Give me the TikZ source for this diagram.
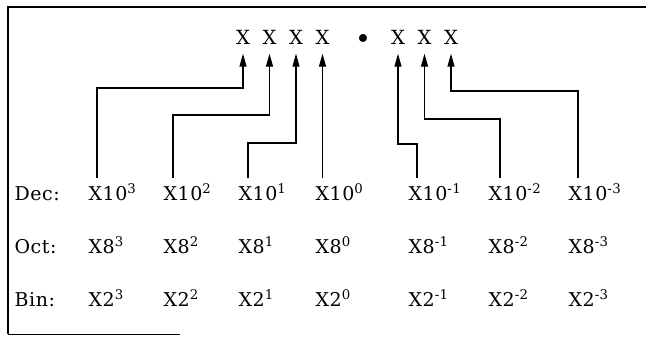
\documentclass[tikz,border=0pt]{standalone}
\usepackage{fontspec}
\setmainfont{DejaVu Serif}[LetterSpace=3]
\usetikzlibrary{arrows.meta}

\begin{document}
\begin{tikzpicture}[x=1pt,y=1pt,->,>={Triangle[length=13pt,width=7pt]},shorten >=9pt,line width=1.2pt,node distance=26.5pt,
    digitnode/.style={inner sep=0pt,font=\fontsize{19.5}{22}\selectfont},
    powlabel/.style={anchor=base west,inner sep=0pt,font=\fontsize{19}{22}\selectfont}]

    \useasboundingbox (0,0) rectangle (646,-337);

    % frame
    \draw[-,shorten >=0pt,line width=2pt] (646,-7) -- (8,-7) -- (8,-334);
    \draw[-,shorten >=0pt,line width=1pt] (8,-334) -- (180,-334);

    % the number
    \node[digitnode] (d3) at (243,-37) {X};
    \node[digitnode] (d2) [right of = d3] {X};
    \node[digitnode] (d1) [right of = d2] {X};
    \node[digitnode] (d0) [right of = d1] {X};
    \node[digitnode,font=\fontsize{27}{30}\selectfont] (pt) [right of = d0, xshift=14pt, yshift=-5pt] {•};
    \node[digitnode] (dm1) [right of = pt, xshift=8.5pt, yshift=5pt] {X};
    \node[digitnode] (dm2) [right of = dm1] {X};
    \node[digitnode] (dm3) [right of = dm2] {X};

    % weights
    \node[powlabel] (dec) at (14,-200) {Dec:};
    \node[powlabel] (dec3) at (88,-200) {X10\textsuperscript{3}};
    \node[powlabel] (dec2) at (163,-200) {X10\textsuperscript{2}};
    \node[powlabel] (dec1) at (238,-200) {X10\textsuperscript{1}};
    \node[powlabel] (dec0) at (315,-200) {X10\textsuperscript{0}};
    \node[powlabel] (decm1) at (408,-200) {X10\textsuperscript{-1}};
    \node[powlabel] (decm2) at (488,-200) {X10\textsuperscript{-2}};
    \node[powlabel] (decm3) at (568,-200) {X10\textsuperscript{-3}};

    \node[powlabel] (oct) at (14,-253) {Oct:};
    \node[powlabel] (oct3) at (88,-253) {X8\textsuperscript{3}};
    \node[powlabel] (oct2) at (163,-253) {X8\textsuperscript{2}};
    \node[powlabel] (oct1) at (238,-253) {X8\textsuperscript{1}};
    \node[powlabel] (oct0) at (315,-253) {X8\textsuperscript{0}};
    \node[powlabel] (octm1) at (408,-253) {X8\textsuperscript{-1}};
    \node[powlabel] (octm2) at (488,-253) {X8\textsuperscript{-2}};
    \node[powlabel] (octm3) at (568,-253) {X8\textsuperscript{-3}};

    \node[powlabel] (bin) at (14,-306) {Bin:};
    \node[powlabel] (bin3) at (88,-306) {X2\textsuperscript{3}};
    \node[powlabel] (bin2) at (163,-306) {X2\textsuperscript{2}};
    \node[powlabel] (bin1) at (238,-306) {X2\textsuperscript{1}};
    \node[powlabel] (bin0) at (315,-306) {X2\textsuperscript{0}};
    \node[powlabel] (binm1) at (408,-306) {X2\textsuperscript{-1}};
    \node[powlabel] (binm2) at (488,-306) {X2\textsuperscript{-2}};
    \node[powlabel] (binm3) at (568,-306) {X2\textsuperscript{-3}};

    % leads from the weights up to the digits
    \draw ([xshift=9pt,yshift=22pt]dec3.base west) |- ([yshift=-51pt]d3.center) -- (d3.south);
    \draw ([xshift=10pt,yshift=22pt]dec2.base west) |- ([yshift=-78pt]d2.center) -- (d2.south);
    \draw ([xshift=10pt,yshift=22pt]dec1.base west) |- ([yshift=-106pt]d1.center) -- (d1.south);
    \draw ([xshift=7.5pt,yshift=22pt]dec0.base west) -- (d0.south);
    \draw ([xshift=9pt,yshift=22pt]decm1.base west) |- ([yshift=-107pt]dm1.center) -- (dm1.south);
    \draw ([xshift=12pt,yshift=22pt]decm2.base west) |- ([yshift=-82pt]dm2.center) -- (dm2.south);
    \draw ([xshift=10pt,yshift=22pt]decm3.base west) |- ([yshift=-54pt]dm3.center) -- (dm3.south);
\end{tikzpicture}
\end{document}
